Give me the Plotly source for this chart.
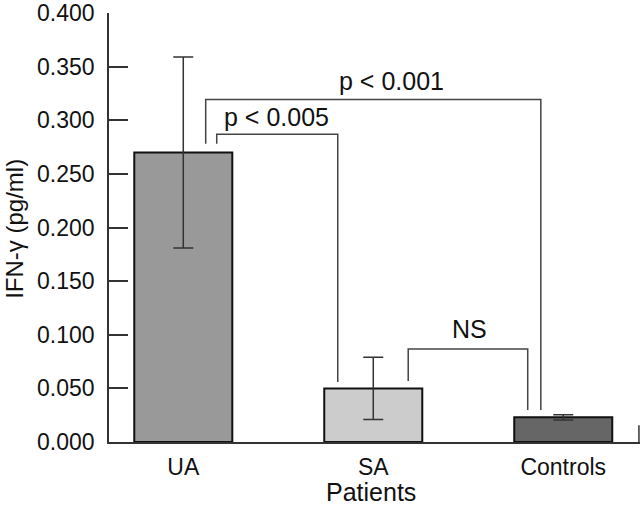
import plotly.graph_objects as go

categories = ["UA", "SA", "Controls"]
means = [0.270, 0.050, 0.023]
errors = [0.089, 0.029, 0.0025]
bar_colors = ["#999999", "#cccccc", "#666666"]

y_ticks = [0.0, 0.05, 0.10, 0.15, 0.20, 0.25, 0.30, 0.35, 0.40]
y_tick_labels = ["0.000", "0.050", "0.100", "0.150", "0.200", "0.250", "0.300", "0.350", "0.400"]

# significance brackets
bracket_labels = ["p < 0.005", "p < 0.001", "NS"]
bracket_x_left = [0.176, 0.118, 1.184]
bracket_x_right = [0.813, 1.882, 1.813]
bracket_y_left = [0.278, 0.278, 0.0568]
bracket_y_right = [0.0559, 0.0298, 0.0298]
bracket_y_top = [0.287, 0.3194, 0.0866]
label_x = [0.489, 1.098, 1.506]
label_y = [0.3026, 0.3364, 0.105]

FONT = "Liberation Sans, Arial, Helvetica, sans-serif"
x_pos = list(range(len(categories)))

fig = go.Figure()
fig.add_trace(go.Bar(
    x=x_pos, y=means, width=0.516,
    marker=dict(color=bar_colors, line=dict(color="#111111", width=2)),
    error_y=dict(type="data", array=errors, visible=True, color="#333333",
                 thickness=1.5, width=10),
    showlegend=False,
))

shapes = []
for xl, xr, yl, yr, yt in zip(bracket_x_left, bracket_x_right, bracket_y_left,
                              bracket_y_right, bracket_y_top):
    shapes.append(dict(type="path",
                       path=f"M {xl},{yl} L {xl},{yt} L {xr},{yt} L {xr},{yr}",
                       xref="x", yref="y", line=dict(color="#444444", width=1.5)))
# small tick at the right end of the x axis
shapes.append(dict(type="line", xref="paper", yref="y", x0=0.998, x1=0.998,
                   y0=0, y1=0.0157, line=dict(color="#333333", width=1.5)))

annotations = []
for t, lx, ly in zip(bracket_labels, label_x, label_y):
    annotations.append(dict(text=t, x=lx, y=ly, xref="x", yref="y",
                            showarrow=False, font=dict(size=25, color="#111111", family=FONT),
                            xanchor="center", yanchor="middle"))
annotations.append(dict(text="Patients", x=0.493, y=-0.152, xref="paper", yref="paper",
                        showarrow=False, font=dict(size=25, color="#111111", family=FONT),
                        xanchor="center", yanchor="bottom", borderpad=0))
annotations.append(dict(text="IFN-γ (pg/ml)", x=-0.2053, y=0.498, xref="paper", yref="paper",
                        textangle=-90, showarrow=False, borderpad=0,
                        font=dict(size=24, color="#111111", family=FONT),
                        xanchor="left", yanchor="middle"))

fig.update_layout(
    width=640, height=508,
    margin=dict(l=109, r=0, t=8, b=66),
    paper_bgcolor="white", plot_bgcolor="white",
    font=dict(family=FONT, size=23, color="#111111"),
    shapes=shapes, annotations=annotations,
    xaxis=dict(range=[-0.391, 2.404], tickvals=x_pos, ticktext=categories,
               showline=True, linecolor="#333333", linewidth=1.5,
               ticks="", showgrid=False, zeroline=False,
               tickfont=dict(size=23), ticklabelstandoff=4,
               ticklabeloverflow="allow"),
    yaxis=dict(range=[0, 0.4], tickvals=y_ticks, ticktext=y_tick_labels,
               showline=True, linecolor="#333333", linewidth=1.5,
               ticks="inside", ticklen=19, tickwidth=1.5, tickcolor="#333333",
               showgrid=False, zeroline=False,
               tickfont=dict(size=23), ticklabelstandoff=8,
               ticklabeloverflow="allow"),
)

fig.write_html("out.html", config={"displayModeBar": False},
               post_script="document.body.style.margin='0';document.body.style.overflow='hidden';")
